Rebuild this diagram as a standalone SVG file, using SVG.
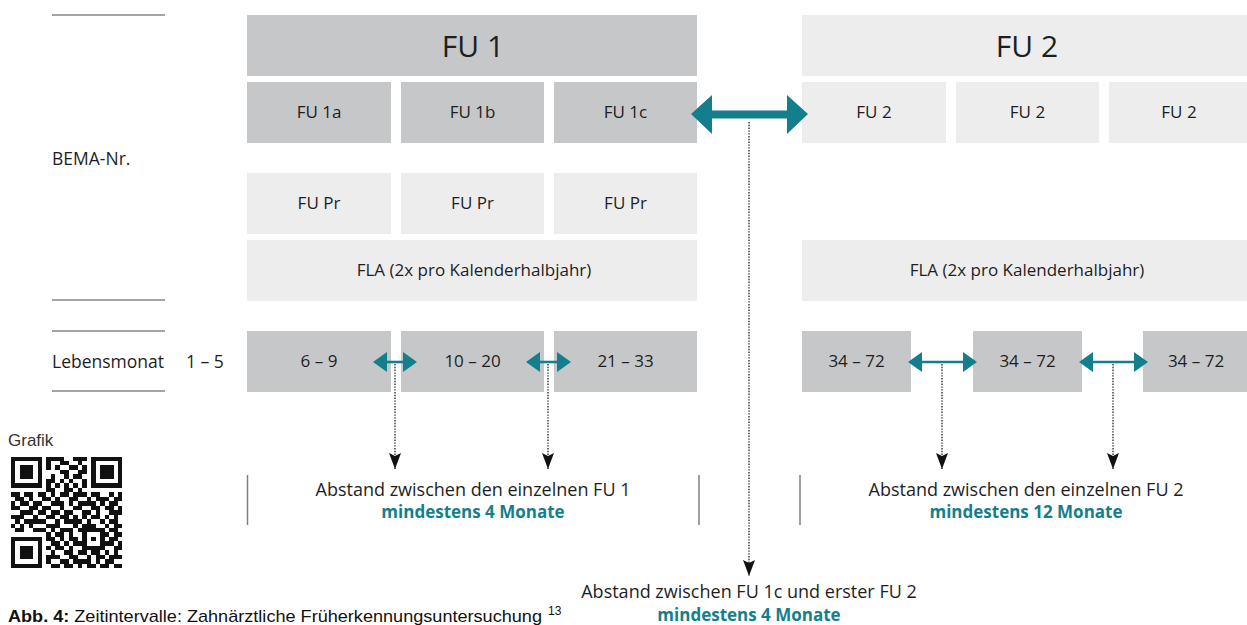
<svg xmlns="http://www.w3.org/2000/svg" width="1247" height="625" viewBox="0 0 1247 625">
<style>
.dk{fill:#c6c7c9}
.lt{fill:#ededee}
.t{font-family:"Open Sans","Noto Sans",sans-serif;font-size:17px;fill:#1e1e1e;text-anchor:middle}
.n{font-family:"Open Sans","Noto Sans",sans-serif;font-size:18px;fill:#1e1e1e;text-anchor:middle}
.tl{font-family:"Open Sans","Noto Sans",sans-serif;font-size:17.5px;fill:#1e1e1e}
.h{font-family:"Open Sans","Noto Sans",sans-serif;font-size:30px;fill:#1e1e1e;text-anchor:middle}
.b{font-family:"Open Sans","Noto Sans",sans-serif;font-size:17px;font-weight:bold;fill:#137f8c;text-anchor:middle}
.rule{stroke:#4a4a4a;stroke-width:1.2}
.br{stroke:#808080;stroke-width:1.5}
.dot{stroke:#222;stroke-width:1.3;stroke-dasharray:1.4 1.4;fill:none}
.teal{fill:#137f8c}
.tealL{stroke:#137f8c;stroke-width:2.6}
</style>
<defs>
<marker id="ah" viewBox="0 0 16 12" refX="16" refY="6" markerWidth="16" markerHeight="12" markerUnits="userSpaceOnUse" orient="auto">
<path d="M0 0 L16 6 L0 12 L3 6 Z" fill="#111"/>
</marker>
</defs>

<g id="labels">
<line class="rule" x1="52" y1="15" x2="165" y2="15"/>
<line class="rule" x1="52" y1="300" x2="165" y2="300"/>
<line class="rule" x1="52" y1="331" x2="165" y2="331"/>
<line class="rule" x1="52" y1="391" x2="165" y2="391"/>
<text class="tl" x="52" y="165">BEMA-Nr.</text>
<text class="tl" x="52" y="368">Lebensmonat</text>
<text class="tl" x="186" y="368">1 – 5</text>
</g>

<g id="fu1-header"><rect class="dk" x="247" y="15" width="450" height="61"/><text class="h" x="473" y="57">FU 1</text></g>
<g id="fu2-header"><rect class="lt" x="802" y="15" width="445" height="61"/><text class="h" x="1027" y="57">FU 2</text></g>

<g id="fu1a"><rect class="dk" x="247" y="82" width="144" height="61"/><text class="t" x="319" y="118">FU 1a</text></g>
<g id="fu1b"><rect class="dk" x="401" y="82" width="143" height="61"/><text class="t" x="472.5" y="118">FU 1b</text></g>
<g id="fu1c"><rect class="dk" x="554" y="82" width="143" height="61"/><text class="t" x="625.5" y="118">FU 1c</text></g>
<g id="fu2-1"><rect class="lt" x="802" y="82" width="144" height="61"/><text class="t" x="874" y="118">FU 2</text></g>
<g id="fu2-2"><rect class="lt" x="956" y="82" width="143" height="61"/><text class="t" x="1027.5" y="118">FU 2</text></g>
<g id="fu2-3"><rect class="lt" x="1109" y="82" width="138" height="61"/><text class="t" x="1179" y="118">FU 2</text></g>

<g id="fupr1"><rect class="lt" x="247" y="173" width="144" height="61"/><text class="t" x="319" y="209">FU Pr</text></g>
<g id="fupr2"><rect class="lt" x="401" y="173" width="143" height="61"/><text class="t" x="472.5" y="209">FU Pr</text></g>
<g id="fupr3"><rect class="lt" x="554" y="173" width="143" height="61"/><text class="t" x="625.5" y="209">FU Pr</text></g>

<g id="fla1"><rect class="lt" x="247" y="240" width="450" height="61"/><text class="t" x="474" y="276">FLA (2x pro Kalenderhalbjahr)</text></g>
<g id="fla2"><rect class="lt" x="802" y="240" width="445" height="61"/><text class="t" x="1027" y="276">FLA (2x pro Kalenderhalbjahr)</text></g>

<g id="m1"><rect class="dk" x="247" y="331" width="144" height="61"/><text class="t" x="319" y="367">6 – 9</text></g>
<g id="m2"><rect class="dk" x="401" y="331" width="143" height="61"/><text class="t" x="472.5" y="367">10 – 20</text></g>
<g id="m3"><rect class="dk" x="554" y="331" width="143" height="61"/><text class="t" x="625.5" y="367">21 – 33</text></g>
<g id="m4"><rect class="dk" x="802" y="331" width="109" height="61"/><text class="t" x="856.5" y="367">34 – 72</text></g>
<g id="m5"><rect class="dk" x="973" y="331" width="109" height="61"/><text class="t" x="1027.5" y="367">34 – 72</text></g>
<g id="m6"><rect class="dk" x="1143" y="331" width="104" height="61"/><text class="t" x="1196" y="367">34 – 72</text></g>

<g id="note1">
<line class="br" x1="247.5" y1="475" x2="247.5" y2="525"/>
<line class="br" x1="699" y1="475" x2="699" y2="525"/>
<text class="n" x="473" y="496">Abstand zwischen den einzelnen FU 1</text>
<text class="b" x="473" y="518">mindestens 4 Monate</text>
</g>
<g id="note2">
<line class="br" x1="800" y1="475" x2="800" y2="525"/>
<text class="n" x="1026" y="496">Abstand zwischen den einzelnen FU 2</text>
<text class="b" x="1026" y="518">mindestens 12 Monate</text>
</g>
<g id="note3">
<text class="n" x="749" y="598">Abstand zwischen FU 1c und erster FU 2</text>
<text class="b" x="749" y="621">mindestens 4 Monate</text>
</g>

<g id="connectors">
<polygon class="teal" points="691,114 712,95 712,110.5 787,110.5 787,95 808,114 787,134 787,118.5 712,118.5 712,134"/>
<line class="dot" x1="749" y1="122" x2="749" y2="576" marker-end="url(#ah)"/>

<line class="tealL" x1="384" y1="362" x2="406" y2="362"/>
<path class="teal" d="M373 362 L387 352 L387 372 Z M417 362 L403 352 L403 372 Z"/>
<line class="dot" x1="395" y1="364" x2="395" y2="469" marker-end="url(#ah)"/>

<line class="tealL" x1="537" y1="362" x2="560" y2="362"/>
<path class="teal" d="M526 362 L540 352 L540 372 Z M571 362 L557 352 L557 372 Z"/>
<line class="dot" x1="548" y1="364" x2="548" y2="469" marker-end="url(#ah)"/>

<line class="tealL" x1="919" y1="362" x2="966" y2="362"/>
<path class="teal" d="M908 362 L922 352 L922 372 Z M977 362 L963 352 L963 372 Z"/>
<line class="dot" x1="942" y1="364" x2="942" y2="469" marker-end="url(#ah)"/>

<line class="tealL" x1="1090" y1="362" x2="1137" y2="362"/>
<path class="teal" d="M1079 362 L1093 352 L1093 372 Z M1148 362 L1134 352 L1134 372 Z"/>
<line class="dot" x1="1113" y1="364" x2="1113" y2="469" marker-end="url(#ah)"/>
</g>

<g id="qr-block">
<text x="8" y="446" font-family="Liberation Sans, Arial, sans-serif" font-size="17" fill="#333">Grafik</text>
<g transform="translate(10.7 456.5) scale(4.47)" fill="#111" shape-rendering="crispEdges">
<path d="M0 0h7v1h-7zM8 0h4v1h-4zM14 0h3v1h-3zM18 0h7v1h-7z
M0 1h1v1h-1zM6 1h1v1h-1zM8 1h1v1h-1zM11 1h2v1h-2zM15 1h1v1h-1zM18 1h1v1h-1zM24 1h1v1h-1z
M0 2h1v1h-1zM2 2h3v1h-3zM6 2h1v1h-1zM8 2h1v1h-1zM10 2h1v1h-1zM13 2h2v1h-2zM16 2h1v1h-1zM18 2h1v1h-1zM20 2h3v1h-3zM24 2h1v1h-1z
M0 3h1v1h-1zM2 3h3v1h-3zM6 3h1v1h-1zM11 3h2v1h-2zM15 3h2v1h-2zM18 3h1v1h-1zM20 3h3v1h-3zM24 3h1v1h-1z
M0 4h1v1h-1zM2 4h3v1h-3zM6 4h1v1h-1zM9 4h1v1h-1zM12 4h1v1h-1zM14 4h2v1h-2zM18 4h1v1h-1zM20 4h3v1h-3zM24 4h1v1h-1z
M0 5h1v1h-1zM6 5h1v1h-1zM8 5h2v1h-2zM11 5h1v1h-1zM13 5h1v1h-1zM16 5h1v1h-1zM18 5h1v1h-1zM24 5h1v1h-1z
M0 6h7v1h-7zM8 6h1v1h-1zM10 6h1v1h-1zM12 6h1v1h-1zM14 6h1v1h-1zM16 6h1v1h-1zM18 6h7v1h-7z
M8 7h2v1h-2zM12 7h2v1h-2zM15 7h1v1h-1z
M0 8h2v1h-2zM3 8h2v1h-2zM6 8h2v1h-2zM9 8h1v1h-1zM11 8h2v1h-2zM14 8h3v1h-3zM18 8h2v1h-2zM22 8h1v1h-1zM24 8h1v1h-1z
M1 9h2v1h-2zM4 9h1v1h-1zM7 9h2v1h-2zM10 9h1v1h-1zM13 9h2v1h-2zM17 9h1v1h-1zM19 9h3v1h-3zM23 9h2v1h-2z
M0 10h1v1h-1zM2 10h2v1h-2zM5 10h2v1h-2zM9 10h3v1h-3zM13 10h1v1h-1zM15 10h4v1h-4zM20 10h1v1h-1zM22 10h2v1h-2z
M0 11h2v1h-2zM4 11h2v1h-2zM7 11h2v1h-2zM11 11h1v1h-1zM14 11h2v1h-2zM18 11h2v1h-2zM21 11h2v1h-2zM24 11h1v1h-1z
M2 12h3v1h-3zM6 12h2v1h-2zM9 12h2v1h-2zM12 12h2v1h-2zM16 12h2v1h-2zM19 12h1v1h-1zM22 12h3v1h-3z
M0 13h3v1h-3zM5 13h1v1h-1zM8 13h2v1h-2zM11 13h2v1h-2zM14 13h1v1h-1zM16 13h1v1h-1zM18 13h2v1h-2zM21 13h1v1h-1zM23 13h1v1h-1z
M1 14h1v1h-1zM3 14h5v1h-5zM10 14h1v1h-1zM12 14h4v1h-4zM17 14h1v1h-1zM20 14h1v1h-1zM22 14h2v1h-2z
M0 15h1v1h-1zM2 15h1v1h-1zM4 15h1v1h-1zM8 15h3v1h-3zM14 15h1v1h-1zM16 15h3v1h-3zM21 15h1v1h-1zM23 15h2v1h-2z
M1 16h2v1h-2zM5 16h3v1h-3zM9 16h1v1h-1zM11 16h3v1h-3zM15 16h6v1h-6zM22 16h2v1h-2z
M8 17h1v1h-1zM10 17h2v1h-2zM13 17h1v1h-1zM16 17h1v1h-1zM20 17h2v1h-2zM23 17h2v1h-2z
M0 18h7v1h-7zM8 18h2v1h-2zM11 18h1v1h-1zM13 18h2v1h-2zM16 18h1v1h-1zM18 18h1v1h-1zM20 18h1v1h-1zM22 18h2v1h-2z
M0 19h1v1h-1zM6 19h1v1h-1zM9 19h2v1h-2zM12 19h1v1h-1zM14 19h3v1h-3zM20 19h3v1h-3zM24 19h1v1h-1z
M0 20h1v1h-1zM2 20h3v1h-3zM6 20h1v1h-1zM8 20h1v1h-1zM10 20h2v1h-2zM13 20h1v1h-1zM16 20h5v1h-5zM23 20h2v1h-2z
M0 21h1v1h-1zM2 21h3v1h-3zM6 21h1v1h-1zM9 21h1v1h-1zM12 21h2v1h-2zM15 21h2v1h-2zM18 21h2v1h-2zM21 21h1v1h-1zM23 21h1v1h-1z
M0 22h1v1h-1zM2 22h3v1h-3zM6 22h1v1h-1zM8 22h3v1h-3zM13 22h2v1h-2zM17 22h1v1h-1zM19 22h2v1h-2zM22 22h3v1h-3z
M0 23h1v1h-1zM6 23h1v1h-1zM8 23h1v1h-1zM11 23h2v1h-2zM14 23h4v1h-4zM19 23h1v1h-1zM21 23h2v1h-2z
M0 24h7v1h-7zM9 24h2v1h-2zM12 24h2v1h-2zM15 24h1v1h-1zM17 24h2v1h-2zM20 24h2v1h-2zM23 24h2v1h-2z"/>
</g>
</g>

<g id="caption">
<text x="8" y="622" font-family="Liberation Sans, Arial, sans-serif" font-size="17" fill="#111" textLength="534" lengthAdjust="spacingAndGlyphs"><tspan font-weight="bold">Abb. 4:</tspan> Zeitintervalle: Zahnärztliche Früherkennungsuntersuchung</text>
<text x="548" y="615" font-family="Liberation Sans, Arial, sans-serif" font-size="12" fill="#111">13</text>
</g>
</svg>
